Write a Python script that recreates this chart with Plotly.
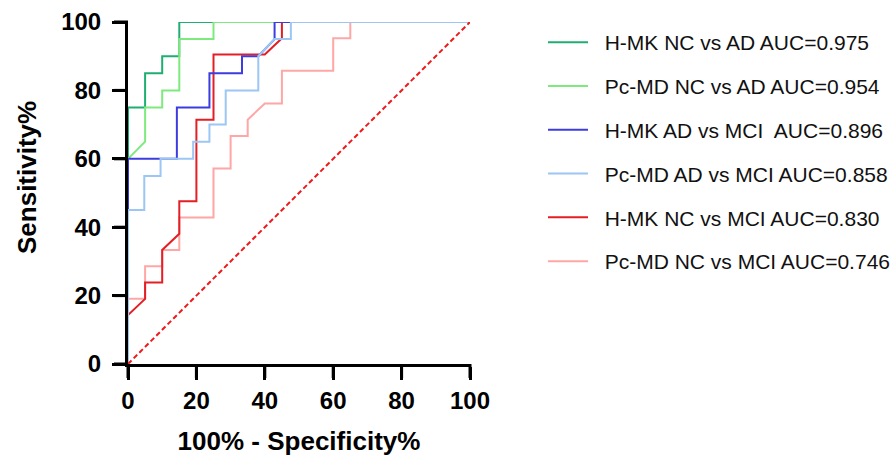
import plotly.graph_objects as go

# ---- data (100% - Specificity%, Sensitivity%) ----
names = [
    "H-MK NC vs AD AUC=0.975",
    "Pc-MD NC vs AD AUC=0.954",
    "H-MK AD vs MCI  AUC=0.896",
    "Pc-MD AD vs MCI AUC=0.858",
    "H-MK NC vs MCI AUC=0.830",
    "Pc-MD NC vs MCI AUC=0.746",
]

hmk_nc_ad_x = [0, 0, 5, 5, 10, 10, 15, 15, 100]
hmk_nc_ad_y = [0, 75, 75, 85, 85, 90, 90, 100, 100]

pcmd_nc_ad_x = [0, 0, 5, 5, 10, 10, 15, 15, 25, 25, 100]
pcmd_nc_ad_y = [0, 60, 65, 75, 75, 80, 80, 95, 95, 100, 100]

hmk_ad_mci_x = [0, 0, 14.29, 14.29, 23.81, 23.81, 33.33, 33.33, 38.10, 42.86, 42.86, 100]
hmk_ad_mci_y = [0, 60, 60, 75, 75, 85, 85, 90, 90, 95, 100, 100]

pcmd_ad_mci_x = [0, 0, 4.76, 4.76, 9.52, 9.52, 19.05, 19.05, 23.81, 23.81, 28.57, 28.57,
                 38.10, 38.10, 42.86, 47.62, 47.62, 100]
pcmd_ad_mci_y = [0, 45, 45, 55, 55, 60, 60, 65, 65, 70, 70, 80,
                 80, 90, 95, 95, 100, 100]

hmk_nc_mci_x = [0, 0, 5, 5, 10, 10, 15, 15, 20, 20, 25, 25, 40, 45, 45, 100]
hmk_nc_mci_y = [0, 14.29, 19.05, 23.81, 23.81, 33.33, 38.10, 47.62, 47.62, 71.43, 71.43,
                90.48, 90.48, 95.24, 100, 100]

pcmd_nc_mci_x = [0, 0, 5, 5, 10, 10, 15, 15, 25, 25, 30, 30, 35, 35, 40, 45, 45,
                 60, 60, 65, 65, 100]
pcmd_nc_mci_y = [0, 19.05, 19.05, 28.57, 28.57, 33.33, 33.33, 42.86, 42.86, 57.14, 57.14,
                 66.67, 66.67, 71.43, 76.19, 76.19, 85.71, 85.71, 95.24, 95.24, 100, 100]

ref_x = [0, 100]
ref_y = [0, 100]

x_ticks = [0, 20, 40, 60, 80, 100]
y_ticks = [0, 20, 40, 60, 80, 100]

colors = ["#1fae72", "#7eea7e", "#3d3ddf", "#9cc6f4", "#e31e24", "#ffa6a6"]

series = [
    (hmk_nc_ad_x, hmk_nc_ad_y),
    (pcmd_nc_ad_x, pcmd_nc_ad_y),
    (hmk_ad_mci_x, hmk_ad_mci_y),
    (pcmd_ad_mci_x, pcmd_ad_mci_y),
    (hmk_nc_mci_x, hmk_nc_mci_y),
    (pcmd_nc_mci_x, pcmd_nc_mci_y),
]

draw_order = [0, 1, 5, 4, 2, 3]

X_RANGE = [0, 100]
Y_RANGE = [0, 100]
PLOT_W = 342
PLOT_H = 342
TICK_LEN = 14

fig = go.Figure()
for i in draw_order:
    xs, ys = series[i]
    fig.add_trace(go.Scatter(
        x=xs, y=ys, mode="lines", name="  " + names[i],
        line=dict(color=colors[i], width=2),
        legendrank=i + 1, legendgroup="g%d" % i,
    ))

fig.add_trace(go.Scatter(
    x=ref_x, y=ref_y, mode="lines", showlegend=False,
    line=dict(color="#f01818", width=2, dash="5px,3px"),
))

# tick marks (outside), placed at the tick values along each axis
shapes = []
for v in x_ticks:
    px = (v - X_RANGE[0]) / (X_RANGE[1] - X_RANGE[0])
    shapes.append(dict(type="line", xref="paper", yref="paper",
                       x0=px, x1=px, y0=0, y1=-TICK_LEN / PLOT_H,
                       line=dict(color="black", width=3), layer="above"))
for v in y_ticks:
    py = (v - Y_RANGE[0]) / (Y_RANGE[1] - Y_RANGE[0])
    shapes.append(dict(type="line", xref="paper", yref="paper",
                       x0=0, x1=-TICK_LEN / PLOT_W, y0=py, y1=py,
                       line=dict(color="black", width=3), layer="above"))

FAM = "Liberation Sans, Arial, sans-serif"
tick_font = dict(family=FAM, size=24, color="black", weight="bold")
title_font = dict(family=FAM, size=26, color="black", weight="bold")

fig.update_layout(
    width=893, height=456,
    margin=dict(l=128, r=423, t=22, b=92, autoexpand=False),
    plot_bgcolor="white", paper_bgcolor="white",
    showlegend=True,
    shapes=shapes,
    legend=dict(
        x=(543 - 128) / 342, y=1.0, xanchor="left", yanchor="top",
        font=dict(family=FAM, size=21, color="#111111"),
        tracegroupgap=13.5, itemwidth=40,
        bgcolor="rgba(0,0,0,0)",
    ),
    xaxis=dict(
        range=X_RANGE, tickmode="array", tickvals=x_ticks,
        ticktext=[str(v) for v in x_ticks],
        showgrid=False, zeroline=False, showline=True, linecolor="black", linewidth=3,
        ticks="outside", ticklen=13, tickwidth=3, tickcolor="black",
        tickfont=tick_font, automargin=False,
        title=dict(text="100% - Specificity%", font=title_font, standoff=36),
    ),
    yaxis=dict(
        range=Y_RANGE, tickmode="array", tickvals=y_ticks,
        ticktext=[str(v) for v in y_ticks],
        showgrid=False, zeroline=False, showline=True, linecolor="black", linewidth=3,
        ticks="outside", ticklen=13, tickwidth=3, tickcolor="black",
        tickfont=tick_font, ticklabelstandoff=6, automargin=False,
    ),
    annotations=[dict(
        text="Sensitivity%", font=title_font, textangle=-90,
        xref="paper", yref="paper", x=(27 - 128) / 342, y=(364 - 178) / 342,
        xanchor="center", yanchor="middle", showarrow=False,
    )],
)

fig.write_html("out.html")
